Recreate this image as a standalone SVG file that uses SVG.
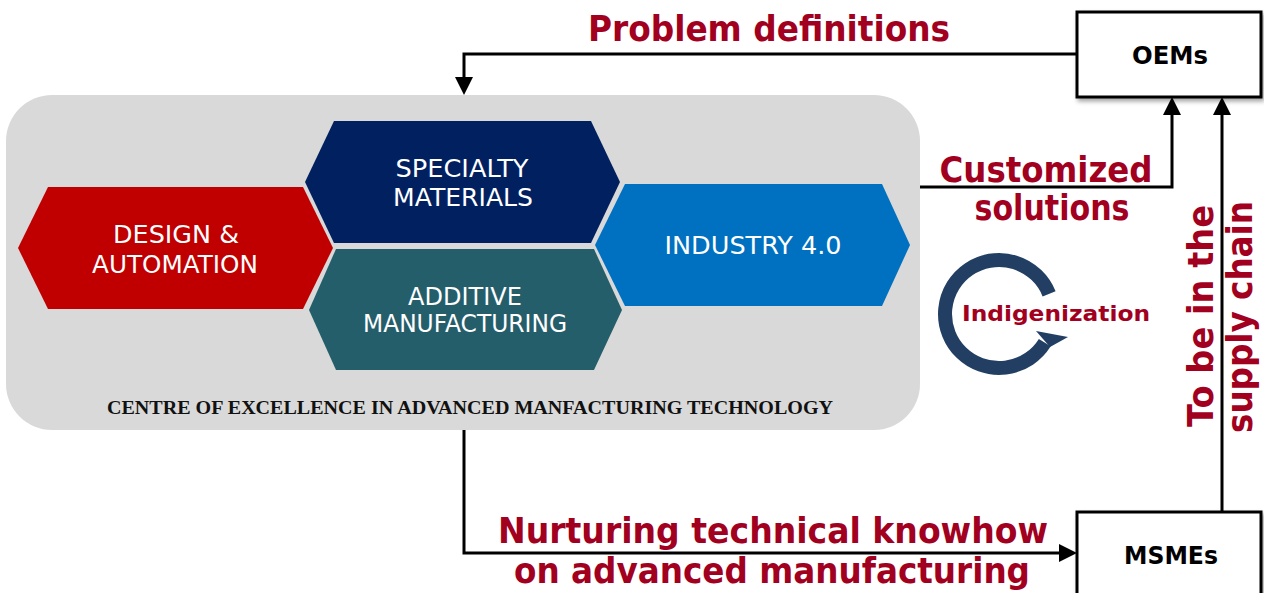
<svg xmlns="http://www.w3.org/2000/svg" width="1264" height="593" viewBox="0 0 1264 593">
<defs>
<style>
.hex-text{font-family:"DejaVu Sans",Tahoma,Verdana,sans-serif;font-size:24px;fill:#ffffff;text-anchor:middle}
.lbl{font-family:"DejaVu Sans",Tahoma,Verdana,sans-serif;font-weight:bold;font-size:35px;fill:#A2001F;text-anchor:middle}
.box-text{font-family:"DejaVu Sans",Tahoma,Verdana,sans-serif;font-weight:bold;font-size:24px;fill:#000000;text-anchor:middle}
.conn{fill:none;stroke:#000000;stroke-width:3}
.box{fill:#ffffff;stroke:#000000;stroke-width:3}
</style>
<marker id="arr" viewBox="0 0 18 18" refX="10" refY="9" markerWidth="18" markerHeight="18" markerUnits="userSpaceOnUse" orient="auto">
<path d="M0,0 L18,9 L0,18 z" fill="#000000"/>
</marker>
<filter id="sh" x="-10%" y="-10%" width="130%" height="130%">
<feDropShadow dx="2" dy="3" stdDeviation="2" flood-color="#000000" flood-opacity="0.35"/>
</filter>
</defs>
<rect width="1264" height="593" fill="#ffffff"/>

<g id="coe">
<rect x="6" y="95" width="914" height="335" rx="46" ry="46" fill="#D9D9D9"/>
<text x="470" y="414" font-family="'Liberation Serif','Times New Roman',serif" font-weight="bold" font-size="19" fill="#111111" text-anchor="middle" textLength="726" lengthAdjust="spacingAndGlyphs">CENTRE OF EXCELLENCE IN ADVANCED MANFACTURING TECHNOLOGY</text>
</g>

<g id="design-automation">
<polygon points="18,248 48,187 303,187 333,248 303,309 48,309" fill="#C00000"/>
<text class="hex-text" x="176" y="243" textLength="126" lengthAdjust="spacingAndGlyphs">DESIGN &amp;</text>
<text class="hex-text" x="175" y="273" textLength="166" lengthAdjust="spacingAndGlyphs">AUTOMATION</text>
</g>

<g id="specialty-materials">
<polygon points="305,182 334,121 591,121 620,182 591,243 334,243" fill="#002060"/>
<text class="hex-text" x="462" y="177" textLength="133" lengthAdjust="spacingAndGlyphs">SPECIALTY</text>
<text class="hex-text" x="463" y="206" textLength="140" lengthAdjust="spacingAndGlyphs">MATERIALS</text>
</g>

<g id="additive-manufacturing">
<polygon points="309,310 336,249 594,249 622,310 594,370 336,370" fill="#255E6B"/>
<text class="hex-text" x="465" y="305" textLength="114" lengthAdjust="spacingAndGlyphs">ADDITIVE</text>
<text class="hex-text" x="465" y="332" textLength="204" lengthAdjust="spacingAndGlyphs">MANUFACTURING</text>
</g>

<g id="industry-4">
<polygon points="595,245 625,184 882,184 910,245 882,306 625,306" fill="#0070C0"/>
<text class="hex-text" x="753" y="254" textLength="177" lengthAdjust="spacingAndGlyphs">INDUSTRY 4.0</text>
</g>

<g id="oems">
<rect class="box" x="1077" y="12" width="184" height="85" filter="url(#sh)"/>
<text class="box-text" x="1170" y="64" textLength="76" lengthAdjust="spacingAndGlyphs">OEMs</text>
</g>

<g id="msmes">
<rect class="box" x="1077" y="512" width="184" height="100" filter="url(#sh)"/>
<text class="box-text" x="1171" y="564" textLength="94" lengthAdjust="spacingAndGlyphs">MSMEs</text>
</g>

<g id="indigenization">
<path d="M1049.1,293.8 A54,54 0 1 0 1044.8,342.6" fill="none" stroke="#223F63" stroke-width="14"/>
<polygon points="1036,331 1068,337 1050,347" fill="#223F63"/>
<text x="1056" y="321" font-family="'DejaVu Sans',Tahoma,Verdana,sans-serif" font-weight="bold" font-size="22" fill="#A2001F" text-anchor="middle" textLength="188" lengthAdjust="spacingAndGlyphs">Indigenization</text>
</g>

<g id="connectors">
<path class="conn" d="M1077,54 H464 V87" marker-end="url(#arr)"/>
<path class="conn" d="M920,187 H1172 V105" marker-end="url(#arr)"/>
<path class="conn" d="M1222,512 V105" marker-end="url(#arr)"/>
<path class="conn" d="M464,430 V553 H1069" marker-end="url(#arr)"/>
</g>

<g id="labels">
<text class="lbl" x="769" y="41" textLength="362" lengthAdjust="spacingAndGlyphs">Problem definitions</text>
<text class="lbl" x="1046" y="182" textLength="213" lengthAdjust="spacingAndGlyphs">Customized</text>
<text class="lbl" x="1052" y="220" textLength="155" lengthAdjust="spacingAndGlyphs">solutions</text>
<text class="lbl" x="773" y="543" textLength="550" lengthAdjust="spacingAndGlyphs">Nurturing technical knowhow</text>
<text class="lbl" x="772" y="583" textLength="516" lengthAdjust="spacingAndGlyphs">on advanced manufacturing</text>
<text class="lbl" transform="translate(1213,316) rotate(-90)" x="0" y="0" textLength="222" lengthAdjust="spacingAndGlyphs">To be in the</text>
<text class="lbl" transform="translate(1252,317) rotate(-90)" x="0" y="0" textLength="232" lengthAdjust="spacingAndGlyphs">supply chain</text>
</g>
</svg>
